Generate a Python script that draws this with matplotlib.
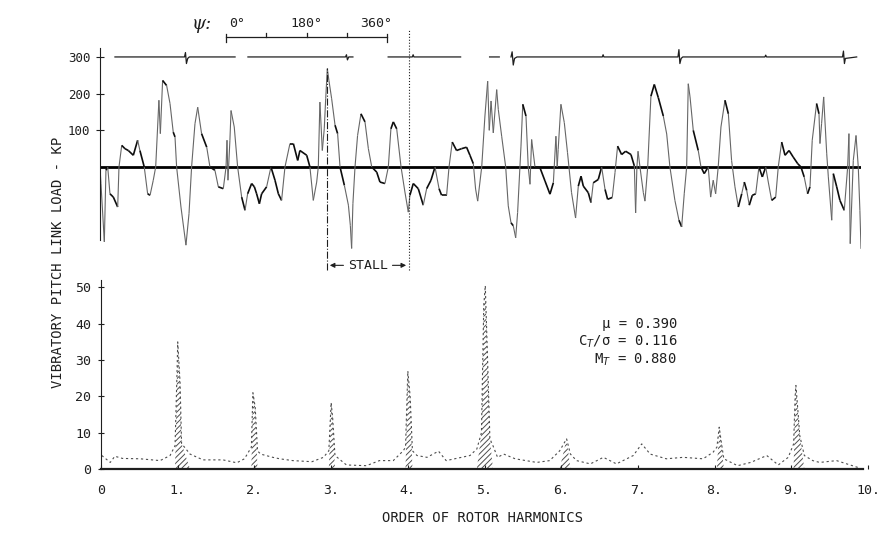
import numpy as np
import matplotlib.pyplot as plt
from matplotlib.collections import LineCollection

plt.rcParams['font.family'] = ['DejaVu Sans Mono', 'DejaVu Sans']
plt.rcParams['hatch.linewidth'] = 0.7

# ---- upper record : pitch link load (KP) vs time in rotor revolutions
rev = [0.000, 0.006, 0.027, 0.037, 0.048, 0.062, 0.083, 0.110, 0.118, 0.135,
       0.155, 0.176, 0.207, 0.234, 0.248, 0.275, 0.296, 0.311, 0.331, 0.346,
       0.358, 0.366, 0.375, 0.389, 0.414, 0.435, 0.455, 0.466, 0.476, 0.503,
       0.534, 0.553, 0.569, 0.590, 0.607, 0.631, 0.663, 0.683, 0.714, 0.735,
       0.766, 0.783, 0.789, 0.795, 0.807, 0.814, 0.834, 0.855, 0.880, 0.901,
       0.917, 0.942, 0.959, 0.973, 0.990, 1.004, 1.035, 1.062, 1.087, 1.108,
       1.128, 1.149, 1.180, 1.201, 1.228, 1.242, 1.284, 1.304, 1.325, 1.346,
       1.356, 1.366, 1.381, 1.393, 1.402, 1.412, 1.422, 1.439, 1.460, 1.476,
       1.491, 1.518, 1.543, 1.555, 1.563, 1.571, 1.584, 1.600, 1.621, 1.646,
       1.667, 1.688, 1.719, 1.739, 1.770, 1.791, 1.807, 1.822, 1.843, 1.870,
       1.894, 1.915, 1.925, 1.946, 1.977, 2.008, 2.029, 2.056, 2.081, 2.106,
       2.122, 2.153, 2.168, 2.188, 2.215, 2.246, 2.277, 2.298, 2.319, 2.333,
       2.346, 2.371, 2.391, 2.408, 2.418, 2.429, 2.443, 2.453, 2.464, 2.474,
       2.495, 2.520, 2.536, 2.553, 2.567, 2.582, 2.594, 2.615, 2.626, 2.646,
       2.660, 2.671, 2.681, 2.702, 2.733, 2.764, 2.795, 2.816, 2.832, 2.840,
       2.846, 2.863, 2.884, 2.904, 2.929, 2.954, 2.971, 2.988, 3.002, 3.033,
       3.050, 3.064, 3.095, 3.116, 3.137, 3.153, 3.182, 3.199, 3.215, 3.240,
       3.265, 3.298, 3.319, 3.327, 3.335, 3.342, 3.354, 3.375, 3.385, 3.402,
       3.422, 3.443, 3.468, 3.499, 3.520, 3.540, 3.571, 3.596, 3.613, 3.629,
       3.644, 3.654, 3.665, 3.685, 3.716, 3.733, 3.753, 3.778, 3.793, 3.809,
       3.824, 3.840, 3.857, 3.882, 3.903, 3.923, 3.944, 3.965, 3.986, 4.002,
       4.017, 4.033, 4.052, 4.073, 4.093, 4.114, 4.135, 4.151, 4.172, 4.197,
       4.213, 4.234, 4.255, 4.280, 4.306, 4.334, 4.354, 4.374, 4.395, 4.410,
       4.424, 4.451, 4.466, 4.472, 4.482, 4.495, 4.514, 4.524, 4.545, 4.555,
       4.576, 4.596, 4.623, 4.644, 4.652, 4.660, 4.679, 4.696, 4.710, 4.720,
       4.727]
load_kp = [0, -45, -204, -9, 0, -73, -82, -109, 0, 59,
           50, 45, 32, 73, 45, 0, -73, -77, -36, 0,
           109, 182, 91, 236, 222, 173, 95, 82, 0, -109,
           -213, -127, 0, 118, 163, 91, 54, 0, -9, -54,
           -59, 0, 73, -36, 73, 154, 109, 0, -82, -118,
           -73, -45, -54, -73, -100, -73, -54, 0, -36, -73,
           -91, 0, 64, 64, 18, 45, 32, 0, -91, -41,
           0, 177, 45, 104, 186, 268, 236, 186, 114, 91,
           0, -50, -104, -159, -222, -100, 0, 86, 145, 123,
           50, 0, -14, -41, -45, 0, 104, 123, 104, 0,
           -68, -123, -77, -45, -59, -104, -59, -36, 0, -59,
           -77, -77, 0, 68, 45, 50, 54, 32, 9, -60,
           -93, 0, 139, 234, 100, 180, 93, 150, 211, 157,
           84, 0, -106, -152, -160, -193, -124, 57, 171, 139,
           0, -47, 75, 0, -2, -38, -74, -43, 84, 0,
           48, 171, 121, 39, -70, -139, -52, -25, -52, -70,
           -97, -43, -34, 0, -61, -88, -83, -15, 57, 34,
           43, 34, 3, -125, 0, 43, 0, -70, -93, 0,
           193, 225, 189, 139, 90, 0, -91, -145, -163, -73,
           0, 227, 191, 100, 45, 0, -18, 0, -82, -36,
           -73, 0, 109, 182, 145, 18, -54, -109, -73, -41,
           -64, -104, -77, -73, 0, -27, 0, -41, -91, -82,
           0, 68, 32, 45, 27, 9, 0, -27, -73, -54,
           73, 173, 145, 64, 118, 191, 36, -27, -145, -18,
           -54, -91, -118, 0, 91, -209, 18, 86, 0, -118,
           -223]

# azimuth reference trace, one blip per revolution (nan = gap in record)
ref_rev = [0.093, 0.525, 0.531, 0.537, 0.545, 0.555, 0.839, np.nan,
           0.919, 1.525, 1.531, 1.537, 1.545, 1.571, np.nan,
           1.790, 1.940, 1.945, 1.950, 2.240, np.nan, 2.420, 2.480, np.nan,
           2.553, 2.560, 2.567, 2.575, 2.590, 3.120, 3.125, 3.130,
           3.590, 3.596, 3.602, 3.610, 3.620, 4.130, 4.135, 4.140,
           4.612, 4.618, 4.624, 4.630, 4.700]
ref_kp = [300, 300, 312, 282, 296, 300, 300, np.nan,
          300, 300, 306, 292, 300, 300, np.nan,
          300, 300, 306, 300, 300, np.nan, 300, 300, np.nan,
          300, 314, 278, 296, 300, 300, 306, 300,
          300, 320, 282, 296, 300, 300, 305, 300,
          300, 316, 282, 296, 300]

psi_ticks = [0, 90, 180, 270, 360]
psi_origin = 0.783          # revolution at which the psi scale starts
stall_rev = [1.410, 1.919]

# ---- lower : harmonic analysis
harm = [0.01, 0.12, 0.18, 0.28, 0.51, 0.77, 0.90, 0.965, 0.99, 1.00,
        1.03, 1.05, 1.16, 1.33, 1.59, 1.77, 1.87, 1.96, 1.98, 2.01,
        2.04, 2.08, 2.24, 2.33, 2.50, 2.75, 2.90, 2.97, 3.00, 3.02,
        3.05, 3.20, 3.46, 3.63, 3.81, 3.94, 3.97, 4.00, 4.03, 4.06,
        4.12, 4.25, 4.40, 4.50, 4.81, 4.90, 4.96, 4.99, 5.01, 5.04,
        5.07, 5.11, 5.17, 5.25, 5.40, 5.68, 5.85, 5.98, 6.07, 6.12,
        6.20, 6.38, 6.55, 6.72, 6.94, 7.05, 7.16, 7.37, 7.59, 7.85,
        7.98, 8.03, 8.06, 8.09, 8.12, 8.30, 8.47, 8.68, 8.83, 8.96,
        9.03, 9.05, 9.06, 9.09, 9.11, 9.17, 9.28, 9.37, 9.59, 9.90]
amp = [3.7, 1.8, 3.5, 2.9, 2.8, 2.3, 3.7, 6.4, 26.0, 35.0,
       24.0, 7.0, 4.1, 2.5, 2.5, 1.7, 2.8, 6.0, 21.0, 17.0,
       5.0, 4.1, 3.2, 2.8, 2.3, 2.0, 3.2, 5.0, 18.3, 14.0,
       3.7, 1.1, 0.9, 2.3, 2.3, 5.0, 6.0, 27.0, 20.0, 5.0,
       3.7, 3.2, 4.9, 2.3, 3.7, 5.5, 10.0, 45.0, 50.5, 30.0,
       8.3, 6.4, 3.2, 4.1, 2.8, 1.8, 2.3, 5.0, 8.3, 4.1,
       2.3, 1.4, 3.2, 1.4, 3.7, 6.9, 4.1, 2.8, 3.2, 2.8,
       4.6, 6.0, 11.5, 7.0, 2.8, 0.9, 1.8, 3.7, 1.1, 3.2,
       6.9, 20.0, 23.0, 15.0, 9.2, 3.7, 2.3, 1.8, 2.3, 0.2]

harm_ticks = [0, 1, 2, 3, 4, 5, 6, 7, 8, 9, 10]
harm_labels = ['0', '1.', '2.', '3.', '4.', '5.', '6.', '7.', '8.', '9.', '10.']
amp_ticks = [0, 10, 20, 30, 40, 50]
load_ticks = [100, 200, 300]

ink = '0.12'

fig = plt.figure(figsize=(8.84, 5.34), dpi=100)

# ---------------- upper panel
ax1 = fig.add_axes([0.1131, 0.488, 0.8609, 0.4878])
ax1.patch.set_visible(False)
ax1.set_xlim(0, 4.727)
ax1.set_ylim(-290, 420)
for s in ['top', 'right', 'bottom']:
    ax1.spines[s].set_visible(False)
ax1.spines['left'].set_bounds(-200, 325)
ax1.spines['left'].set_color(ink)
ax1.set_xticks([])
ax1.set_yticks(load_ticks)
ax1.set_yticklabels([str(v) for v in load_ticks])
ax1.tick_params(axis='y', direction='inout', length=6, width=0.8,
                labelsize=9, pad=4, colors=ink)

ax1.plot([0, 4.727], [0, 0], color='k', lw=2.0)

# oscillograph look: slow parts of the trace dark, fast swings lighter
pts = np.column_stack([rev, load_kp])
segs = np.stack([pts[:-1], pts[1:]], axis=1)
steep = np.abs(np.diff(load_kp) * 0.367) / (np.diff(rev) * 161.0) > 4.5
cols = ['0.4' if s else '0.05' for s in steep]
widths = [0.8 if s else 1.2 for s in steep]
ax1.add_collection(LineCollection(segs, colors=cols, linewidths=widths))
ax1.plot(ref_rev, ref_kp, color=ink, lw=0.9)

# psi scale
t_psi = [psi_origin + p / 360.0 for p in psi_ticks]
ax1.plot([t_psi[0], t_psi[-1]], [355, 355], color=ink, lw=0.9, clip_on=False)
for i, t in enumerate(t_psi):
    if i in (0, len(t_psi) - 1):
        ax1.plot([t, t], [342, 362], color=ink, lw=0.9, clip_on=False)
    else:
        ax1.plot([t, t], [355, 364], color=ink, lw=0.9, clip_on=False)
ax1.text(0.63, 390, '\u03c8:', ha='center', va='center', fontsize=13,
         style='italic', color=ink, family=['DejaVu Serif'])
ax1.text(t_psi[0] + 0.02, 390, '0\u00b0', ha='left', va='center', fontsize=9.5, color=ink)
ax1.text(t_psi[2], 390, '180\u00b0', ha='center', va='center', fontsize=9.5, color=ink)
ax1.text(t_psi[-1] + 0.03, 390, '360\u00b0', ha='right', va='center', fontsize=9.5, color=ink)

# stall boundaries
ax1.plot([stall_rev[0]] * 2, [-280, 270], color=ink, lw=0.8, ls='-.')
ax1.plot([stall_rev[1]] * 2, [-280, 375], color=ink, lw=0.8, ls=':', clip_on=False)
mid = 0.5 * (stall_rev[0] + stall_rev[1])
ax1.text(mid, -268, 'STALL', ha='center', va='center', fontsize=9.5, color=ink)
ax1.annotate('', xy=(stall_rev[0], -268), xytext=(mid - 0.135, -268),
             arrowprops=dict(arrowstyle='-|>', color=ink, lw=0.8, mutation_scale=7))
ax1.annotate('', xy=(stall_rev[1], -268), xytext=(mid + 0.135, -268),
             arrowprops=dict(arrowstyle='-|>', color=ink, lw=0.8, mutation_scale=7))

# ---------------- lower panel
ax2 = fig.add_axes([0.1143, 0.115, 0.8676, 0.3603])
ax2.patch.set_visible(False)
ax2.set_xlim(0, 10)
ax2.set_ylim(-1, 52)
for s in ['top', 'right']:
    ax2.spines[s].set_visible(False)
ax2.spines['left'].set_bounds(0, 52)
ax2.spines['bottom'].set_bounds(0, 9.93)
ax2.spines['bottom'].set_position(('data', 0))
ax2.spines['bottom'].set_linewidth(1.6)
for s in ['left', 'bottom']:
    ax2.spines[s].set_color(ink)

amp_arr = np.array(amp)
ax2.fill_between(harm, 0, amp, where=amp_arr >= 7, interpolate=True,
                 facecolor='none', edgecolor='0.3', hatch='/' * 6, linewidth=0)
ax2.plot(harm, amp, color='0.3', lw=0.8, ls=(0, (2, 2.5)))

ax2.set_xticks(harm_ticks)
ax2.set_xticklabels(harm_labels)
ax2.set_yticks(amp_ticks)
ax2.set_yticklabels([str(v) for v in amp_ticks])
ax2.tick_params(axis='x', direction='in', length=3, width=0.8,
                labelsize=9.5, pad=11, colors=ink)
ax2.tick_params(axis='y', direction='inout', length=4, width=0.8,
                labelsize=9.5, pad=5, colors=ink)

ax2.text(7.51, 40, '\u03bc = 0.390', ha='right', va='center', fontsize=10, color=ink)
ax2.text(7.51, 35, 'C$_T$/\u03c3 = 0.116', ha='right', va='center', fontsize=10, color=ink)
ax2.text(7.51, 30, 'M$_T$ = 0.880', ha='right', va='center', fontsize=10, color=ink)

fig.text(58 / 884, 1 - 262 / 534, 'VIBRATORY PITCH LINK LOAD - KP',
         rotation=90, ha='center', va='center', fontsize=10, color=ink)
fig.text(483 / 884, 1 - 518 / 534, 'ORDER OF ROTOR HARMONICS',
         ha='center', va='center', fontsize=10, color=ink)

fig.savefig('out.png', dpi=100)
